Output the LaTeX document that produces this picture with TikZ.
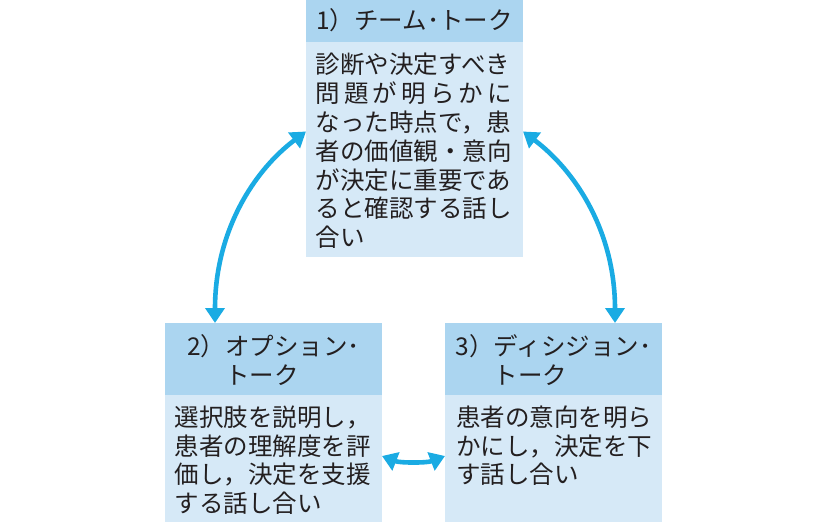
\documentclass[tikz,border=0pt]{standalone}
\usepackage{fontspec}
\setmainfont{Noto Sans CJK JP}
\usetikzlibrary{arrows.meta,calc}
\definecolor{hdr}{RGB}{171,213,240}
\definecolor{bdy}{RGB}{214,233,247}
\definecolor{arr}{RGB}{26,171,227}
\definecolor{ink}{RGB}{35,31,32}
\tikzset{
  panel/.style={draw=none, inner sep=0pt, outer sep=0pt, anchor=north west, minimum width=217pt},
  hpanel/.style={panel, fill=hdr},
  bpanel/.style={panel, fill=bdy},
  htext/.style={inner sep=0pt, anchor=base, text=ink, font=\fontsize{24.5}{29.3}\selectfont},
  btext/.style={inner sep=0pt, anchor=base west, text=ink, font=\fontsize{24.5}{28.7}\selectfont},
  link/.style={draw=arr, line width=4.6pt, {Triangle[width=19pt,length=15pt]}-{Triangle[width=19pt,length=15pt]}}
}
\begin{document}
\begin{tikzpicture}[x=1pt,y=-1pt]
\useasboundingbox (0,0) rectangle (830,522);
% panels
\node[hpanel, minimum height=42pt] (h1) at (306,0) {};
\node[bpanel, minimum height=215pt] (b1) at (306,42) {};
\node[hpanel, minimum height=72pt] (h2) at (165,323) {};
\node[bpanel, minimum height=127pt] (b2) at (165,395) {};
\node[hpanel, minimum height=72pt] (h3) at (445,323) {};
\node[bpanel, minimum height=127pt] (b3) at (445,395) {};
% headers
\node[htext] (t1) at (414.5,29.3) {1）チーム･トーク};
\node[htext] (t2) at (273.5,355) {\vtop{\baselineskip=29.3pt\lineskiplimit=-20pt
  \hbox{2）オプション･}\hbox{\phantom{2）}トーク}}};
\node[htext] (t3) at (553.5,355) {\vtop{\baselineskip=29.3pt\lineskiplimit=-20pt
  \hbox{3）ディシジョン･}\hbox{\phantom{3）}トーク}}};
% bodies
\node[btext] (d1) at (315.5,73.8) {\vtop{\baselineskip=28.8pt\lineskiplimit=-20pt
  \hbox{診断や決定すべき}
  \hbox to 8em{問\hfil 題\hfil が\hfil 明\hfil ら\hfil か\hfil に}
  \hbox{なった時点で，患}
  \hbox{者の価値観・意向}
  \hbox{が決定に重要であ}
  \hbox{ると確認する話し}
  \hbox{合い}}};
\node[btext] (d2) at (174.5,426.5) {\vtop{\baselineskip=28.5pt\lineskiplimit=-20pt
  \hbox{選択肢を説明し，}
  \hbox{患者の理解度を評}
  \hbox{価し，決定を支援}
  \hbox{する話し合い}}};
\node[btext] (d3) at (456,426.5) {\vtop{\baselineskip=28.5pt\lineskiplimit=-20pt
  \hbox{患者の意向を明ら}
  \hbox{かにし，決定を下}
  \hbox{す話し合い}}};
% connectors
\coordinate (l1) at ([xshift=50pt]h2.north west);
\coordinate (l2) at ([yshift=18pt]b1.west);
\coordinate (r1) at ([xshift=-47pt]h3.north east);
\coordinate (r2) at ([yshift=18pt]b1.east);
\coordinate (m1) at ([yshift=2.5pt]b2.east);
\coordinate (m2) at ([yshift=2.5pt]b3.west);
\draw[link] (l1) .. controls ($(l1)+(0,-92)$) and ($(l2)+(-52,39)$) .. (l2);
\draw[link] (r1) .. controls ($(r1)+(0,-92)$) and ($(r2)+(52,39)$) .. (r2);
\draw[link] (m1) .. controls ($(m1)+(18,7)$) and ($(m2)+(-18,7)$) .. (m2);
\end{tikzpicture}
\end{document}
